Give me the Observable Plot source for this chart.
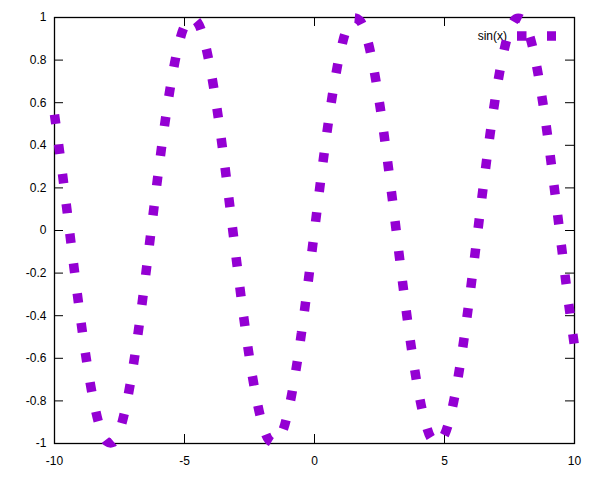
<!DOCTYPE html>
<html><head><meta charset="utf-8">
<script src="https://cdn.jsdelivr.net/npm/d3@7"></script>
<script src="https://cdn.jsdelivr.net/npm/@observablehq/plot@0.6"></script>
<style>body{margin:0;background:#fff;font-family:"Liberation Sans",Arial,sans-serif}</style>
</head><body><div id="chart"></div>
<script>
const xs = [-10,-9.75,-9.5,-9.25,-9,-8.75,-8.5,-8.25,-8,-7.75,-7.5,-7.25,-7,-6.75,-6.5,-6.25,-6,-5.75,-5.5,-5.25,-5,-4.75,-4.5,-4.25,-4,-3.75,-3.5,-3.25,-3,-2.75,-2.5,-2.25,-2,-1.75,-1.5,-1.25,-1,-0.75,-0.5,-0.25,0,0.25,0.5,0.75,1,1.25,1.5,1.75,2,2.25,2.5,2.75,3,3.25,3.5,3.75,4,4.25,4.5,4.75,5,5.25,5.5,5.75,6,6.25,6.5,6.75,7,7.25,7.5,7.75,8,8.25,8.5,8.75,9,9.25,9.5,9.75,10];
const ys = [0.544,0.3195,0.0752,-0.1739,-0.4121,-0.6248,-0.7985,-0.9224,-0.9894,-0.9944,-0.938,-0.8235,-0.657,-0.45,-0.2151,0.0332,0.2794,0.5084,0.7055,0.8589,0.9589,0.9993,0.9775,0.895,0.7568,0.5716,0.3508,0.1082,-0.1411,-0.3817,-0.5985,-0.7781,-0.9093,-0.984,-0.9975,-0.949,-0.8415,-0.6816,-0.4794,-0.2474,0,0.2474,0.4794,0.6816,0.8415,0.949,0.9975,0.984,0.9093,0.7781,0.5985,0.3817,0.1411,-0.1082,-0.3508,-0.5716,-0.7568,-0.895,-0.9775,-0.9993,-0.9589,-0.8589,-0.7055,-0.5084,-0.2794,-0.0332,0.2151,0.45,0.657,0.8235,0.938,0.9944,0.9894,0.9224,0.7985,0.6248,0.4121,0.1739,-0.0752,-0.3195,-0.544];
const xTicks = [-10, -5, 0, 5, 10];
const yTicks = [-1, -0.8, -0.6, -0.4, -0.2, 0, 0.2, 0.4, 0.6, 0.8, 1];
const legendLabel = "sin(x)";
const lineColor = "#9400d3";

const data = xs.map((x, i) => ({x, y: ys[i]}));
const W = 600, H = 480, mL = 54, mR = 26, mT = 17, mB = 37;
const innerW = W - mL - mR, innerH = H - mT - mB, tk = 9;
const dash = "9.5,20.5", lw = 9.5;

const plot = Plot.plot({
  width: W, height: H,
  marginLeft: mL, marginRight: mR, marginTop: mT, marginBottom: mB,
  style: {fontFamily: '"Liberation Sans", Arial, sans-serif', fontSize: "12px", color: "#000", background: "#fff"},
  x: {domain: [-10, 10]},
  y: {domain: [-1, 1]},
  marks: [
    Plot.axisX(xTicks, {tickSize: 0, tickPadding: 13, tickFormat: d => String(d), label: null, fontSize: 12}),
    Plot.axisY(yTicks, {tickSize: 0, tickPadding: 8, tickFormat: d => String(d), label: null, fontSize: 12}),
    Plot.tickX(xTicks, {x: d => d, insetTop: innerH - tk, stroke: "#000"}),
    Plot.tickX(xTicks, {x: d => d, insetBottom: innerH - tk, stroke: "#000"}),
    Plot.tickY(yTicks, {y: d => d, insetRight: innerW - tk, stroke: "#000"}),
    Plot.tickY(yTicks, {y: d => d, insetLeft: innerW - tk, stroke: "#000"}),
    Plot.frame({stroke: "#000", strokeWidth: 1.3}),
    Plot.line(data, {x: "x", y: "y", stroke: lineColor, strokeWidth: lw, strokeDasharray: dash,
      strokeLinecap: "butt", strokeLinejoin: "miter", curve: "catmull-rom"})
  ]
});
document.getElementById("chart").appendChild(plot);

const svg = d3.select(plot);
const g = svg.insert("g", "g[aria-label=line]").attr("aria-label", "key");
const ky = mT + 19, right = W - mR;
g.append("text").attr("x", right - 67).attr("y", ky).attr("dy", "0.35em")
  .attr("text-anchor", "end").attr("fill", "#000").attr("font-size", 12).text(legendLabel);
g.append("line").attr("x1", right - 57).attr("x2", right - 18).attr("y1", ky).attr("y2", ky)
  .attr("stroke", lineColor).attr("stroke-width", lw).attr("stroke-dasharray", dash)
  .attr("stroke-linecap", "butt");
</script>
</body></html>
